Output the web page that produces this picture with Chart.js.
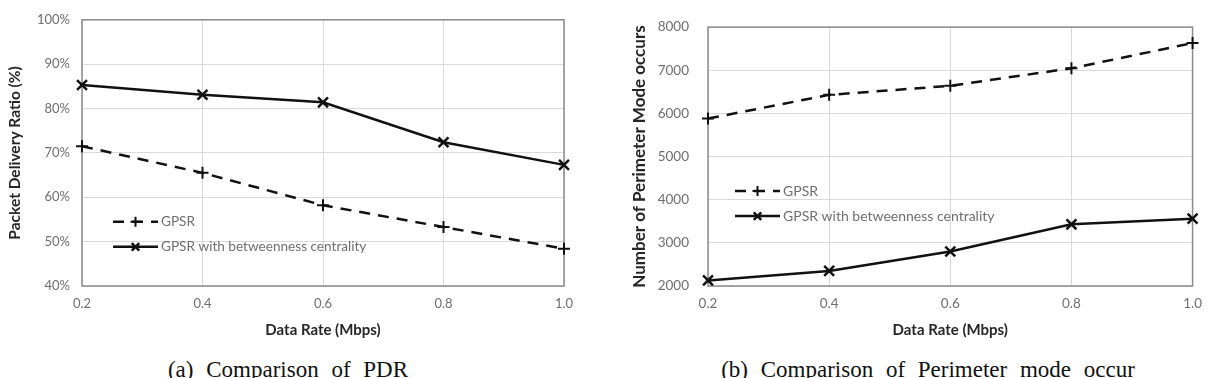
<!DOCTYPE html>
<html>
<head>
<meta charset="utf-8">
<script src="https://cdn.jsdelivr.net/npm/chart.js@4.4.1/dist/chart.umd.min.js"></script>
<style>
    body { margin: 0; width: 1212px; height: 378px; background: #fff; position: relative; overflow: hidden; }
    .chart-box { position: absolute; top: 0; }
    .caption {
        position: absolute; top: 358px;
        font-family: "Liberation Serif", serif; font-size: 23px; line-height: 23px; color: #111;
        white-space: nowrap; transform: translateX(-50%); word-spacing: 7px;
    }
</style>
</head>
<body>

<div class="chart-box" style="left:0"><canvas id="pdr-chart" width="600" height="345"></canvas></div>
<div class="chart-box" style="left:606px"><canvas id="perim-chart" width="606" height="345"></canvas></div>
<div class="caption" style="left:288px">(a) Comparison of PDR</div>
<div class="caption" style="left:928px">(b) Comparison of Perimeter mode occur</div>

<script>
// data
const rates = ['0.2', '0.4', '0.6', '0.8', '1.0'];
const seriesNames = ['GPSR', 'GPSR with betweenness centrality'];

const pdrGpsr = [71.5, 65.5, 58.2, 53.3, 48.4];
const pdrBetween = [85.3, 83.1, 81.4, 72.4, 67.3];
const pdrRange = [40, 100, 10];

const perimGpsr = [5880, 6430, 6640, 7045, 7630];
const perimBetween = [2130, 2350, 2800, 3430, 3560];
const perimRange = [2000, 8000, 1000];


const labelFont = 'Lato';
const gray = '#6e6e6e';

// marker drawing (used for the legend)
function drawMark(ctx, style, x, y, r) {
    ctx.beginPath();
    if (style == 'cross') {
        ctx.moveTo(x - r, y); ctx.lineTo(x + r, y);
        ctx.moveTo(x, y - r); ctx.lineTo(x, y + r);
    } else {
        const d = r * 0.75;
        ctx.moveTo(x - d, y - d); ctx.lineTo(x + d, y + d);
        ctx.moveTo(x + d, y - d); ctx.lineTo(x - d, y + d);
    }
    ctx.stroke();
}

const plotBox = {
    id: 'plotBox',
    beforeDatasetsDraw(chart) {
        const {left, top, width, height} = chart.chartArea;
        const ctx = chart.ctx;
        ctx.save();
        ctx.strokeStyle = '#8a8a8a';
        ctx.lineWidth = 1.5;
        ctx.strokeRect(left, top, width, height);
        ctx.restore();
    }
};

const innerLegend = {
    id: 'innerLegend',
    afterDraw(chart, args, opts) {
        const ctx = chart.ctx;
        const {left, top} = chart.chartArea;
        ctx.save();
        chart.data.datasets.forEach((ds, i) => {
            const x = left + opts.x,
                  y = top + opts.y + i * opts.gap;
            ctx.strokeStyle = ds.borderColor;
            ctx.lineWidth = ds.borderWidth;
            ctx.setLineDash(ds.borderDash || []);
            ctx.beginPath();
            ctx.moveTo(x, y);
            ctx.lineTo(x + opts.len, y);
            ctx.stroke();
            ctx.setLineDash([]);
            ctx.lineWidth = ds.pointBorderWidth;
            drawMark(ctx, ds.pointStyle, x + opts.len / 2, y, 5);

            ctx.fillStyle = gray;
            ctx.font = opts.fontSize + 'px ' + labelFont;
            ctx.textBaseline = 'middle';
            ctx.fillText(ds.label, x + opts.len + 3, y);
        });
        ctx.restore();
    }
};

function makeChart(id, gpsr, between, range, yTitle, fmt, s) {
    const ctx = document.getElementById(id).getContext('2d');
    return new Chart(ctx, {
        type: 'line',
        data: {
            labels: rates,
            datasets: [
                {
                    label: seriesNames[0],
                    data: gpsr,
                    borderColor: '#111',
                    borderWidth: 2.5,
                    borderDash: [11, 8],
                    pointStyle: 'cross',
                    pointRadius: 6,
                    pointBorderWidth: 2,
                    pointBorderColor: '#111',
                    tension: 0
                },
                {
                    label: seriesNames[1],
                    data: between,
                    borderColor: '#111',
                    borderWidth: 2.5,
                    pointStyle: 'crossRot',
                    pointRadius: 7,
                    pointBorderWidth: 2.5,
                    pointBorderColor: '#111',
                    tension: 0
                }
            ]
        },
        plugins: [plotBox, innerLegend],
        options: {
            responsive: false,
            animation: false,
            devicePixelRatio: 1,
            layout: {
                padding: { top: 19, right: s.padRight, bottom: 0, left: 0 }
            },
            plugins: {
                legend: { display: false },
                tooltip: { enabled: false },
                innerLegend: s.legend
            },
            scales: {
                x: {
                    border: { display: false },
                    grid: { color: '#d9d9d9', lineWidth: 1, drawTicks: false },
                    ticks: {
                        color: gray, padding: 10,
                        font: { family: labelFont, size: s.tickSize }
                    },
                    title: {
                        display: true, text: 'Data Rate (Mbps)', color: '#262626',
                        font: { family: labelFont, size: 15, weight: 'bold' },
                        padding: { top: 0, bottom: 6 }
                    },
                    afterFit(scale) { scale.height = 59; }
                },
                y: {
                    min: range[0],
                    max: range[1],
                    border: { display: false },
                    grid: { color: '#d9d9d9', lineWidth: 1, drawTicks: false },
                    ticks: {
                        stepSize: range[2], color: gray, padding: s.tickPad,
                        font: { family: labelFont, size: s.tickSize },
                        callback: fmt
                    },
                    title: {
                        display: true, text: yTitle, color: '#262626',
                        font: { family: labelFont, size: s.titleSize, weight: 'bold' },
                        padding: { top: s.titlePad, bottom: 0 }
                    },
                    afterFit(scale) { scale.width = s.axisW; }
                }
            }
        }
    });
}

const pdrChart = makeChart('pdr-chart', pdrGpsr, pdrBetween, pdrRange,
    'Packet Delivery Ratio (%)', v => v + '%',
    { axisW: 82, padRight: 36, tickPad: 12, tickSize: 13, titleSize: 15.5, titlePad: 6,
      legend: { x: 31, y: 202, gap: 25, len: 45, fontSize: 13.6 } });

const perimChart = makeChart('perim-chart', perimGpsr, perimBetween, perimRange,
    'Number of Perimeter Mode occurs', v => v,
    { axisW: 102, padRight: 12, tickPad: 19, tickSize: 13.5, titleSize: 17, titlePad: 23,
      legend: { x: 27, y: 164, gap: 25, len: 45, fontSize: 14 } });
</script>
</body>
</html>
